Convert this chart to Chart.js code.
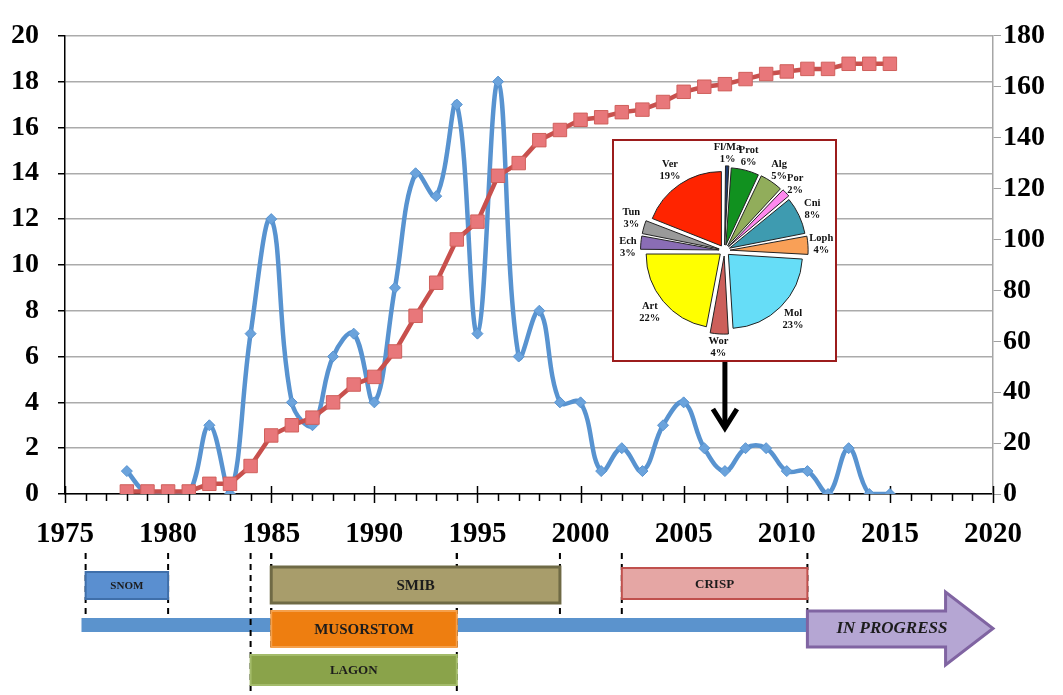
<!DOCTYPE html>
<html>
<head>
<meta charset="utf-8">
<script src="https://cdn.jsdelivr.net/npm/chart.js@4.4.1/dist/chart.umd.min.js"></script>
<style>
  body { margin: 0; background: #fff; }
  #wrap { position: relative; width: 1063px; height: 695px; }
  #inset { position: absolute; left: 612px; top: 139px; width: 225px; height: 223px; border: 2px solid #9c1c1c; box-sizing: border-box; background: #fff; }
  #inset canvas { display: block; }
</style>
</head>
<body>
<div id="wrap">
  <canvas id="main" width="1063" height="695"></canvas>
  <div id="inset"><canvas id="pie" width="221" height="219"></canvas></div>
</div>
<script>
// yearly counts (left axis) and cumulative total (right axis)
const years = [1978, 1979, 1980, 1981, 1982, 1983, 1984, 1985, 1986, 1987, 1988, 1989, 1990,
  1991, 1992, 1993, 1994, 1995, 1996, 1997, 1998, 1999, 2000, 2001, 2002, 2003, 2004, 2005,
  2006, 2007, 2008, 2009, 2010, 2011, 2012, 2013, 2014, 2015]
const perYear = [1, 0, 0, 0, 3, 0, 7, 12, 4, 3, 6, 7, 4, 9, 14, 13, 17, 7, 18, 6, 8, 4, 4, 1,
  2, 1, 3, 4, 2, 1, 2, 2, 1, 1, 0, 2, 0, 0]
const cumulative = [1, 1, 1, 1, 4, 4, 11, 23, 27, 30, 36, 43, 46, 56, 70, 83, 100, 107, 125,
  130, 139, 143, 147, 148, 150, 151, 154, 158, 160, 161, 163, 165, 166, 167, 167, 169, 169, 169]

// inset pie
const groups = ["Fl/Ma", "Prot", "Alg", "Por", "Cni", "Loph", "Mol", "Wor", "Art", "Ech", "Tun", "Ver"]
const shares = [1, 6, 5, 2, 8, 4, 23, 4, 22, 3, 3, 19]
const groupColors = ["#1f3b6e", "#11911f", "#91ad5b", "#ff88ee", "#3e9bb0", "#f9a057",
  "#66ddf7", "#cc5f5a", "#ffff00", "#8a6db5", "#9a9a9a", "#ff2400"]
// small vertical nudges so crowded labels do not collide
const labelNudge = { Tun: -5, Ech: 6 }

// expeditions timeline
const projects = ["SNOM", "SMIB", "MUSORSTOM", "LAGON", "CRISP"]
const projectStart = [1976, 1985, 1985, 1984, 2002]
const projectEnd = [1980, 1999, 1994, 1994, 2011]
const timelineStart = 1975.8
const progressStart = 2011
const progressBodyEnd = 2017.7
const progressTip = 2020
const insetYear = 2007

// box look (pixels) per project
const boxLook = [
  { top: 572, h: 27, size: 11, fill: "#5a8fd0", stroke: "#3f6faa", lw: 2, dashEnd: 617 },
  { top: 567, h: 36, size: 15, fill: "#a89d6b", stroke: "#6f6a45", lw: 3, dashEnd: 617 },
  { top: 611, h: 36, size: 15, fill: "#ee7e10", stroke: "#f5a04b", lw: 2, dashEnd: 650 },
  { top: 655, h: 30, size: 13, fill: "#8aa34a", stroke: "#a3bb6a", lw: 2, dashEnd: 695 },
  { top: 568, h: 31, size: 13, fill: "#e5a6a4", stroke: "#c0504d", lw: 2, dashEnd: 615 },
]

const SERIF = "'Liberation Serif', 'Times New Roman', serif"
Chart.defaults.font.family = SERIF
Chart.defaults.color = "#000"

const xTicks = {
  id: "xTicks",
  beforeDatasetsDraw(chart) {
    const { ctx, scales: { x }, chartArea } = chart
    const base = chartArea.bottom
    ctx.save()
    ctx.strokeStyle = "#000"
    ctx.lineWidth = 1.5
    for (let yr = 1975; yr <= 2020; yr++) {
      const px = Math.round(x.getPixelForValue(yr)) + 0.5
      const major = yr % 5 === 0
      ctx.beginPath()
      ctx.moveTo(px, major ? base - 8 : base)
      ctx.lineTo(px, major ? base + 9 : base + 7)
      ctx.stroke()
    }
    ctx.restore()
  },
}

const timeline = {
  id: "timeline",
  afterDraw(chart) {
    const { ctx, scales: { x } } = chart
    const px = (v) => x.getPixelForValue(v)
    ctx.save()

    // arrow from the inset down to its year
    const ax = px(insetYear)
    ctx.strokeStyle = "#000"
    ctx.lineWidth = 5
    ctx.beginPath()
    ctx.moveTo(ax, 362)
    ctx.lineTo(ax, 426)
    ctx.stroke()
    ctx.beginPath()
    ctx.moveTo(ax - 12, 409)
    ctx.lineTo(ax, 428)
    ctx.lineTo(ax + 12, 409)
    ctx.stroke()

    // main bar
    ctx.fillStyle = "#5b93cd"
    ctx.fillRect(px(timelineStart), 618, px(progressStart) - px(timelineStart), 14)

    // dashed guides
    ctx.setLineDash([6, 5])
    ctx.lineWidth = 2
    ctx.strokeStyle = "#000"
    projects.forEach((p, i) => {
      ;[projectStart[i], projectEnd[i]].forEach((yr) => {
        ctx.beginPath()
        ctx.moveTo(px(yr), 553)
        ctx.lineTo(px(yr), boxLook[i].dashEnd)
        ctx.stroke()
      })
    })
    ctx.setLineDash([])

    // project boxes
    projects.forEach((p, i) => {
      const b = boxLook[i]
      const x0 = px(projectStart[i])
      const w = px(projectEnd[i]) - x0
      ctx.fillStyle = b.fill
      ctx.fillRect(x0, b.top, w, b.h)
      ctx.lineWidth = b.lw
      ctx.strokeStyle = b.stroke
      ctx.strokeRect(x0, b.top, w, b.h)
      ctx.fillStyle = "#1c1c1c"
      ctx.font = `bold ${b.size}px ${SERIF}`
      ctx.textAlign = "center"
      ctx.textBaseline = "middle"
      ctx.fillText(p, x0 + w / 2, b.top + b.h / 2 + 1)
    })

    // in progress arrow
    const s = px(progressStart), m = px(progressBodyEnd), t = px(progressTip)
    ctx.beginPath()
    ctx.moveTo(s, 611)
    ctx.lineTo(m, 611)
    ctx.lineTo(m, 592)
    ctx.lineTo(t, 628.5)
    ctx.lineTo(m, 665)
    ctx.lineTo(m, 647)
    ctx.lineTo(s, 647)
    ctx.closePath()
    ctx.fillStyle = "#b5a6d3"
    ctx.fill()
    ctx.lineWidth = 3
    ctx.strokeStyle = "#8064a2"
    ctx.stroke()
    ctx.fillStyle = "#1c1c1c"
    ctx.font = `italic bold 17px ${SERIF}`
    ctx.textAlign = "center"
    ctx.textBaseline = "middle"
    ctx.fillText("IN PROGRESS", px(2015.1), 629)

    ctx.restore()
  },
}

new Chart(document.getElementById("main"), {
  type: "line",
  data: {
    datasets: [
      {
        label: "Cumulative",
        data: years.map((yr, i) => ({ x: yr, y: cumulative[i] })),
        yAxisID: "y2",
        borderColor: "#c8504d",
        borderWidth: 4.5,
        tension: 0,
        pointStyle: "rect",
        pointRadius: 9.5,
        pointBackgroundColor: "#e8777a",
        pointBorderColor: "#d0605c",
        pointBorderWidth: 1,
      },
      {
        label: "Per year",
        data: years.map((yr, i) => ({ x: yr, y: perYear[i] })),
        yAxisID: "y",
        borderColor: "#5893d0",
        borderWidth: 4.5,
        tension: 0.4,
        pointStyle: "rectRot",
        pointRadius: 5.5,
        pointBackgroundColor: "#6ba3dc",
        pointBorderColor: "#5893d0",
        pointBorderWidth: 1,
      },
    ],
  },
  options: {
    responsive: false,
    animation: false,
    events: [],
    layout: { padding: { top: 26, left: 0, right: 0, bottom: 0 } },
    plugins: { legend: { display: false }, tooltip: { enabled: false } },
    scales: {
      x: {
        type: "linear",
        min: 1975,
        max: 2020,
        afterFit: (s) => { s.height = 201 },
        ticks: {
          stepSize: 5,
          padding: 23,
          maxRotation: 0,
          autoSkip: false,
          font: { size: 29, weight: "bold" },
          callback: (v) => String(v),
        },
        grid: { display: false, drawTicks: false },
        border: { color: "#000", width: 1.5 },
      },
      y: {
        position: "left",
        min: 0,
        max: 20,
        afterFit: (s) => { s.width = 65 },
        ticks: { stepSize: 2, padding: 19, font: { size: 28, weight: "bold" } },
        grid: { color: "#ababab", lineWidth: 1.5, tickLength: 7, tickColor: "#000" },
        border: { color: "#000", width: 1.5 },
      },
      y2: {
        position: "right",
        min: 0,
        max: 180,
        afterFit: (s) => { s.width = 70 },
        ticks: { stepSize: 20, padding: 2, font: { size: 28, weight: "bold" } },
        grid: { drawOnChartArea: false, tickLength: 8, tickColor: "#a0a0a0" },
        border: { color: "#a6a6a6", width: 1.5 },
      },
    },
  },
  plugins: [xTicks, timeline],
})

const pieLabels = {
  id: "pieLabels",
  afterDatasetsDraw(chart) {
    const { ctx } = chart
    const meta = chart.getDatasetMeta(0)
    ctx.save()
    ctx.fillStyle = "#111"
    ctx.font = `bold 10.5px ${SERIF}`
    ctx.textAlign = "center"
    ctx.textBaseline = "middle"
    meta.data.forEach((arc, i) => {
      const { x, y, startAngle, endAngle, outerRadius } = arc.getProps(["x", "y", "startAngle", "endAngle", "outerRadius"], true)
      const mid = (startAngle + endAngle) / 2
      const r = outerRadius + 23
      const lx = x + Math.cos(mid) * r
      const ly = y + Math.sin(mid) * r + (labelNudge[groups[i]] || 0)
      ctx.fillText(groups[i], lx, ly - 6)
      ctx.fillText(shares[i] + "%", lx, ly + 6)
    })
    ctx.restore()
  },
}

new Chart(document.getElementById("pie"), {
  type: "pie",
  data: {
    labels: groups,
    datasets: [{
      data: shares,
      backgroundColor: groupColors,
      borderColor: "#222",
      borderWidth: 1,
      offset: 22,
    }],
  },
  options: {
    responsive: false,
    animation: false,
    events: [],
    radius: 74,
    layout: { padding: 10 },
    plugins: { legend: { display: false }, tooltip: { enabled: false } },
  },
  plugins: [pieLabels],
})
</script>
</body>
</html>
